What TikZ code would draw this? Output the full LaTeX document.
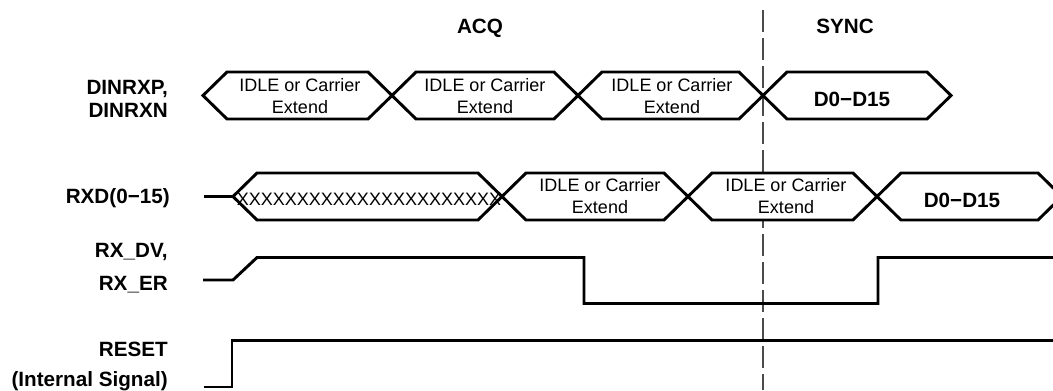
\documentclass[tikz,border=0pt]{standalone}
\usepackage{fontspec}
\setmainfont{Liberation Sans}
\usetikzlibrary{positioning}

% one bus cell: from x #1 to x #2, centre line at y #3
\newcommand{\buscell}[3]{%
  \draw[sig, fill=white] (#1,#3) -- (#1+24,#3-23.5) -- (#2-24,#3-23.5) -- (#2,#3)
    -- (#2-24,#3+23.5) -- (#1+24,#3+23.5) -- cycle;}

\begin{document}
\begin{tikzpicture}[
  x=0.75pt, y=-0.75pt,
  sig/.style={line width=2.2pt, line join=miter},
  lbl/.style={font=\fontsize{15.5}{18}\selectfont\bfseries, anchor=base east, inner sep=0pt},
  hdr/.style={font=\fontsize{15.5}{18}\selectfont\bfseries, anchor=base, inner sep=0pt},
  txt/.style={font=\fontsize{13.5}{16.5}\selectfont, align=center, inner sep=0pt},
  dat/.style={font=\fontsize{15.5}{18}\selectfont\bfseries, anchor=base, inner sep=0pt},
  phase/.style={gray!60!black, line width=1.1pt, dash pattern=on 16.5pt off 4.5pt}
]
\useasboundingbox (0,0) rectangle (1053,390);
\clip (0,0) rectangle (1053,390);

% phase headers and boundary
\node[hdr] (acq) at (480,33) {ACQ};
\node[hdr] (sync) at (845,33) {SYNC};
\coordinate (bndtop) at (763,10);
\coordinate (bndbot) at (763,390);
\draw[phase] (bndtop) -- (bndbot);

% signal names
\node[lbl] (dinrxp) at (168,94) {DINRXP,};
\node[lbl] (dinrxn) at (168,117) {DINRXN};
\node[lbl] (rxd) at (170,203) {RXD(0−15)};
\node[lbl] (rxdv) at (168,257) {RX\_DV,};
\node[lbl] (rxer) at (168,290) {RX\_ER};
\node[lbl] (reset) at (168,356) {RESET};
\node[lbl] (intsig) at (168,386) {(Internal Signal)};

% DINRXP/DINRXN
\buscell{203}{392}{95.5}
\buscell{392}{578}{95.5}
\buscell{578}{763}{95.5}
\buscell{763}{951}{95.5}
\node[txt] (idleA) at (300,96.5) {IDLE or Carrier\\Extend};
\node[txt] (idleB) at (485,96.5) {IDLE or Carrier\\Extend};
\node[txt] (idleC) at (672,96.5) {IDLE or Carrier\\Extend};
\node[dat] (dataA) at (852,106) {D0−D15};

% RXD(0-15)
\draw[sig] (204,196.5) -- (233,196.5);
\buscell{233}{502}{196.5}
\buscell{502}{688}{196.5}
\buscell{688}{877}{196.5}
\buscell{877}{1062}{196.5}
\node[txt, anchor=base] (xfill) at (369,205) {XXXXXXXXXXXXXXXXXXXXXX};
\node[txt] (idleD) at (600,196.5) {IDLE or Carrier\\Extend};
\node[txt] (idleE) at (786,196.5) {IDLE or Carrier\\Extend};
\node[dat] (dataB) at (962,207) {D0−D15};

% RX_DV/RX_ER
\draw[sig] (203,280) -- (233,280) -- (257,257.5) -- (584,257.5) -- (584,303.5)
  -- (878,303.5) -- (878,257.5) -- (1060,257.5);

% RESET
\draw[sig] (204,387) -- (232,387) -- (232,340.5) -- (1060,340.5);
\end{tikzpicture}
\end{document}
